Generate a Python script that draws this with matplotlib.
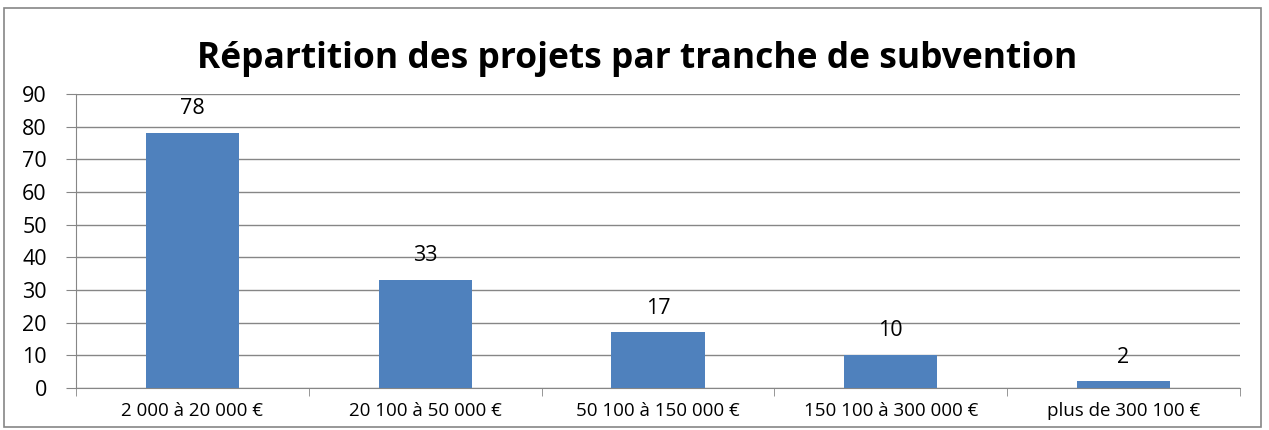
import matplotlib
matplotlib.use("Agg")
import matplotlib.pyplot as plt
from matplotlib.patches import Rectangle

categories = ["2 000 à 20 000 €", "20 100 à 50 000 €", "50 100 à 150 000 €",
              "150 100 à 300 000 €", "plus de 300 100 €"]
counts = [78, 33, 17, 10, 2]
y_ticks = [0, 10, 20, 30, 40, 50, 60, 70, 80, 90]

plt.rcParams["font.family"] = ["Open Sans", "DejaVu Sans"]

fig = plt.figure(figsize=(12.69, 4.30), dpi=100)
ax = fig.add_axes([0.0599, 0.0977, 0.9172, 0.6837])

x = list(range(len(categories)))
bars = ax.bar(x, counts, width=0.4, color="#4f81bd", zorder=3)
for b, v in zip(bars, counts):
    ax.annotate(str(v), (b.get_x() + b.get_width() / 2, v), xytext=(0, 10),
                textcoords="offset points", ha="center", va="bottom",
                fontsize=15.5, zorder=4)

ax.set_xlim(-0.5, len(categories) - 0.5)
ax.set_ylim(0, 90)
ax.set_yticks(y_ticks)
ax.tick_params(axis="y", labelsize=15.5, length=7, color="#868686", pad=14)
ax.set_xticks(x)
ax.set_xticklabels(categories, fontsize=13.5)
ax.tick_params(axis="x", length=0, pad=10)
ax.set_xticks([i + 0.5 for i in range(-1, len(categories))], minor=True)
ax.tick_params(axis="x", which="minor", length=6, color="#868686")
ax.yaxis.grid(True, color="#868686", linewidth=1, zorder=0)
ax.set_axisbelow(True)
for s in ["top", "right"]:
    ax.spines[s].set_visible(False)
for s in ["left", "bottom"]:
    ax.spines[s].set_color("#868686")

fig.text(0.502, 0.862, "Répartition des projets par tranche de subvention",
         ha="center", va="center", fontsize=25.5, fontweight="bold")

fig.patches.append(Rectangle((0.003, 0.007), 0.991, 0.975, transform=fig.transFigure,
                             fill=False, edgecolor="#868686", linewidth=1.2))

fig.savefig("out.png", dpi=100)
